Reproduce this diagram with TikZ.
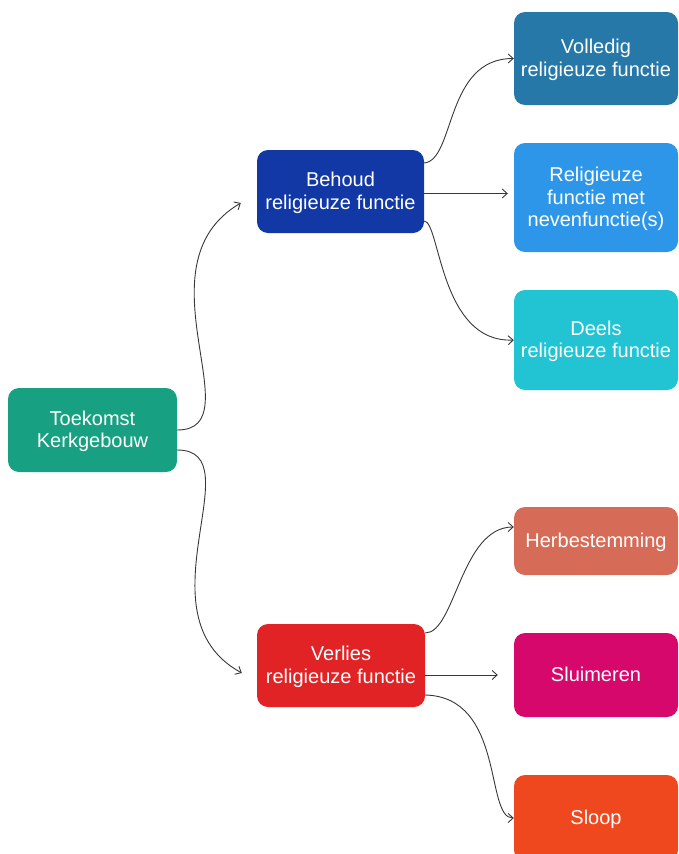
\documentclass[tikz,border=0pt]{standalone}
\usepackage{fontspec}
\setmainfont{Liberation Sans}
\usetikzlibrary{arrows.meta}
\definecolor{cT}{RGB}{24,160,130}
\definecolor{cB}{RGB}{17,56,164}
\definecolor{cV}{RGB}{38,120,168}
\definecolor{cR}{RGB}{45,150,232}
\definecolor{cD}{RGB}{34,196,212}
\definecolor{cH}{RGB}{214,108,88}
\definecolor{cL}{RGB}{225,35,38}
\definecolor{cS}{RGB}{214,8,108}
\definecolor{cSl}{RGB}{240,72,30}
\definecolor{cLine}{RGB}{55,55,55}
\newcommand\boxlbl[1]{\raisebox{0pt}[\dimexpr\height+4pt\relax][\depth]{\begin{tabular}{@{}c@{}}#1\end{tabular}}}
\tikzset{
  nbox/.style={rounded corners=11pt, inner sep=0pt, text=white,
    font=\fontsize{20}{22.5}\selectfont},
  arr/.style={draw=cLine, line width=0.9pt, -{Straight Barb[length=5pt,width=9pt]}}
}
\begin{document}
\begin{tikzpicture}[x=1pt,y=-1pt]
\useasboundingbox (0,0) rectangle (678,854);
\node[nbox, fill=cT, minimum width=169pt, minimum height=84pt] (T) at (92.5,430) {\boxlbl{Toekomst\\Kerkgebouw}};
\node[nbox, fill=cB, minimum width=167pt, minimum height=83pt] (B) at (340.5,191.5) {\boxlbl{Behoud\\religieuze functie}};
\node[nbox, fill=cL, minimum width=168pt, minimum height=83pt] (L) at (341,665.5) {\boxlbl{Verlies\\religieuze functie}};
\node[nbox, fill=cV, minimum width=164pt, minimum height=93pt] (V) at (596,58.5) {\boxlbl{Volledig\\religieuze functie}};
\node[nbox, fill=cR, minimum width=164pt, minimum height=109pt] (R) at (596,197.5) {\boxlbl{Religieuze\\functie met\\nevenfunctie(s)}};
\node[nbox, fill=cD, minimum width=164pt, minimum height=100pt] (D) at (596,340) {\boxlbl{Deels\\religieuze functie}};
\node[nbox, fill=cH, minimum width=164pt, minimum height=68pt] (H) at (596,541) {\boxlbl{Herbestemming}};
\node[nbox, fill=cS, minimum width=164pt, minimum height=84pt] (S) at (596,675) {\boxlbl{Sluimeren}};
\node[nbox, fill=cSl, minimum width=164pt, minimum height=86pt] (Sl) at (596,818) {\boxlbl{Sloop}};

\coordinate (bR) at ([yshift=-2pt]B.east);

\draw[arr] (T.east) .. controls +(78,0) and +(-106,62) .. ([xshift=-16pt,yshift=-11.5pt]B.west);
\draw[arr] ([yshift=-20pt]T.east) .. controls +(78,0) and +(-106,-58) .. ([xshift=-15pt,yshift=-7.5pt]L.west);

\draw[arr] ([yshift=28.5pt]B.east) .. controls +(31,-3) and +(-69,0) .. (V.west);
\draw[arr] (bR) -- ([xshift=-6pt]R.west |- bR);
\draw[arr] ([yshift=-29.5pt]B.east) .. controls +(16,1) and +(-74,3) .. (D.west);

\draw[arr] ([yshift=32.5pt]L.east) .. controls +(30,0) and +(-53,0) .. ([yshift=14pt]H.west);
\draw[arr] (L.east |- S.west) -- ([xshift=-16pt]S.west);
\draw[arr] ([yshift=-29.5pt]L.east) .. controls +(80,2) and +(-29,0) .. (Sl.west);
\end{tikzpicture}
\end{document}
